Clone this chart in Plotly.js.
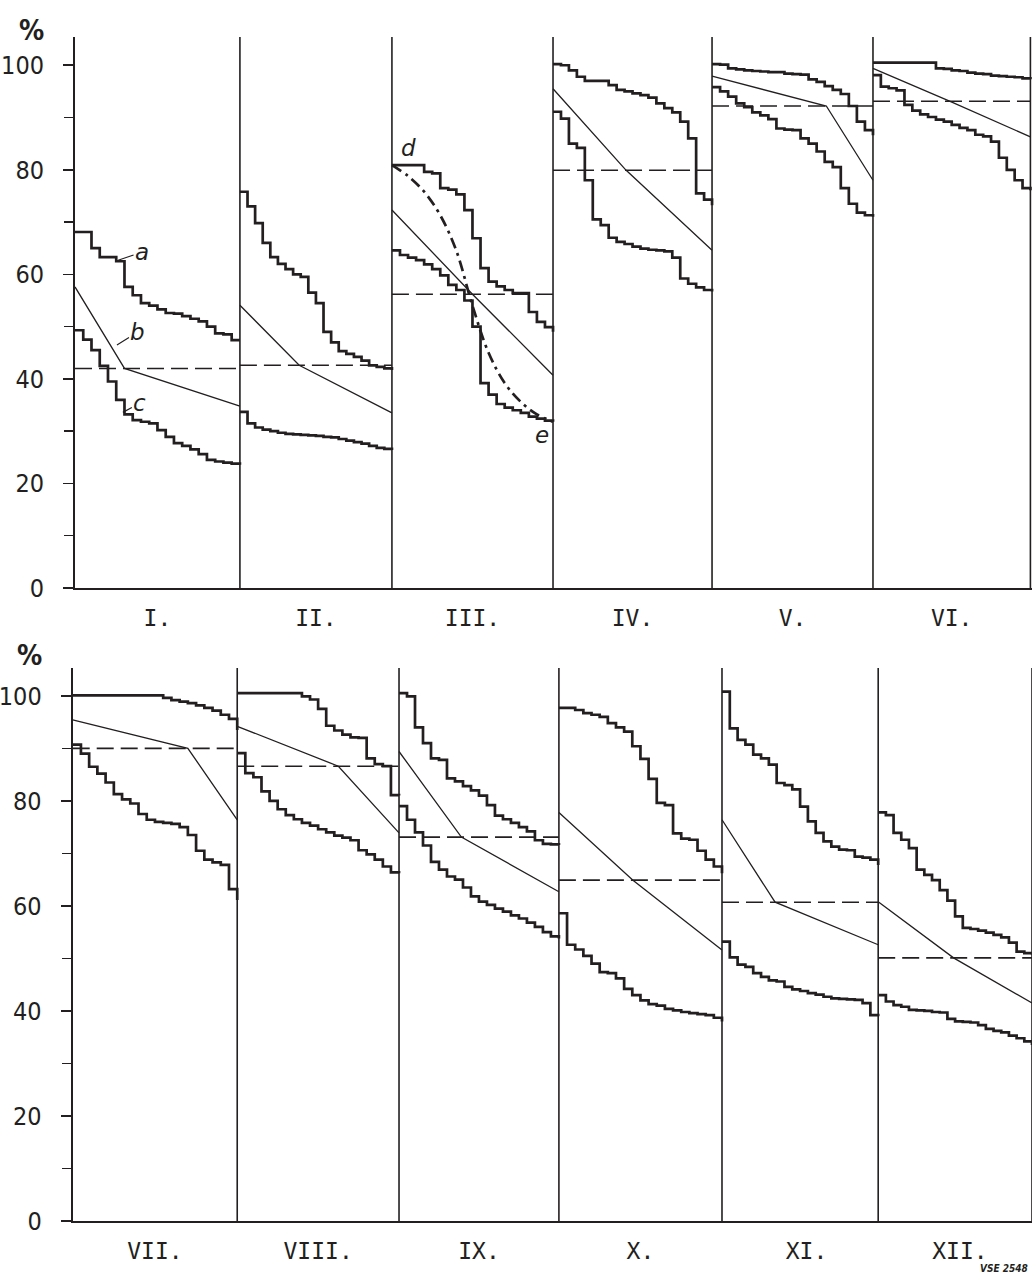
<!DOCTYPE html>
<html>
<head>
<meta charset="utf-8">
<script src="https://cdn.plot.ly/plotly-3.0.1.min.js"></script>
<style>
html,body{margin:0;padding:0;background:#fff;}
#chart{width:1032px;height:1274px;}
</style>
</head>
<body>
<div id="chart"></div>
<script>
// ---- data ----
const monthLabels = ['I.','II.','III.','IV.','V.','VI.','VII.','VIII.','IX.','X.','XI.','XII.'];

// curve "a": upper step curve, sampled at 20 equal steps through each month (+ end value)
const upperSteps = [
  [68.1,68.1,65.0,63.3,63.3,62.5,57.6,56.0,54.5,54.0,53.3,52.6,52.5,52.0,51.5,51.0,50.0,48.7,48.5,47.4,47.4],
  [75.8,73.0,69.8,66.0,63.3,62.0,61.0,60.0,59.5,56.5,54.5,49.0,47.0,45.3,44.8,44.2,43.5,42.6,42.3,42.0,41.7],
  [80.9,80.9,80.9,80.9,79.6,79.3,76.5,76.2,75.3,72.3,66.9,61.2,58.6,57.7,57.0,56.4,56.4,52.8,50.9,49.9,49.0],
  [100.2,100.0,99.0,97.8,97.0,97.0,97.0,96.2,95.3,95.0,94.6,94.3,93.8,92.7,91.8,91.0,89.2,86.0,75.5,74.3,73.2],
  [100.2,100.1,99.4,99.2,99.0,98.9,98.8,98.7,98.7,98.4,98.3,98.2,97.3,96.8,96.0,95.3,94.5,92.2,89.2,87.6,86.6],
  [100.5,100.5,100.5,100.5,100.5,100.5,100.5,100.5,99.4,99.3,99.0,98.9,98.6,98.4,98.3,98.0,97.9,97.8,97.7,97.5,97.3],
  [100.1,100.1,100.1,100.1,100.1,100.1,100.1,100.1,100.1,100.1,100.1,99.6,99.2,98.9,98.6,98.2,97.7,97.2,96.4,95.6,93.5],
  [100.5,100.5,100.5,100.5,100.5,100.5,100.5,100.5,99.9,99.3,97.5,94.3,93.4,92.6,92.1,92.0,88.1,87.0,86.6,81.1,81.0],
  [100.5,99.9,94.0,91.0,88.1,87.8,84.3,83.7,82.8,82.0,81.0,79.2,77.2,76.5,75.8,75.0,74.2,72.5,71.8,71.7,71.6],
  [97.7,97.7,97.3,96.7,96.4,96.0,94.8,94.0,93.2,90.4,88.0,84.2,79.6,79.2,73.8,72.8,72.6,70.5,68.8,67.5,66.2],
  [100.8,93.8,91.6,90.7,88.8,88.1,86.9,83.4,83.0,82.2,78.9,76.1,73.9,72.3,71.3,70.7,70.6,69.4,69.2,68.8,67.8],
  [77.8,77.3,73.9,72.6,71.0,66.9,65.9,64.9,63.0,61.0,58.0,55.8,55.6,55.3,54.9,54.5,54.0,53.0,51.3,51.0,50.7]
];

// curve "c": lower step curve
const lowerSteps = [
  [49.3,47.5,45.5,42.5,39.5,36.0,33.2,32.1,31.8,31.5,30.2,28.9,27.7,27.2,26.5,25.6,24.5,24.2,24.0,23.8,23.6],
  [33.7,31.5,30.7,30.3,30.0,29.7,29.5,29.4,29.3,29.2,29.1,28.9,28.8,28.5,28.2,27.9,27.6,27.2,26.8,26.6,26.4],
  [64.6,63.7,63.2,62.7,61.9,61.0,59.8,58.0,57.0,55.0,50.0,39.2,37.0,35.2,34.5,34.0,33.5,32.8,32.4,32.0,31.8],
  [91.1,89.8,85.0,84.2,78.0,70.5,69.4,67.0,66.2,65.8,65.3,64.9,64.7,64.6,64.4,63.2,59.2,58.2,57.5,57.0,56.7],
  [95.8,95.0,94.0,92.7,92.0,91.0,90.4,89.7,87.9,87.7,87.6,86.0,85.0,83.5,81.5,80.5,76.5,73.5,71.8,71.3,71.0],
  [98.1,95.9,95.6,95.2,92.4,91.3,90.6,90.1,89.6,89.2,88.6,88.0,87.6,86.7,86.4,85.4,82.3,80.0,78.0,76.5,76.1],
  [90.7,89.0,86.5,85.2,83.5,81.3,80.3,79.5,77.5,76.4,76.0,75.8,75.6,75.0,73.5,70.5,68.8,68.3,67.8,63.2,61.1],
  [89.1,85.3,84.5,81.8,80.0,78.4,77.3,76.5,75.8,75.3,74.6,74.0,73.4,73.0,72.5,70.6,69.8,68.8,67.5,66.4,66.2],
  [79.0,76.4,74.0,71.5,68.4,66.9,65.6,65.0,63.5,61.8,60.8,60.2,59.5,58.9,58.2,57.6,56.8,56.0,55.0,54.2,53.8],
  [58.6,52.6,51.7,50.5,49.0,47.4,47.2,46.2,44.2,43.0,42.0,41.3,41.0,40.4,40.1,39.8,39.6,39.4,39.2,38.7,38.0],
  [53.2,50.2,48.8,48.4,47.2,46.5,45.8,45.6,44.6,44.1,43.8,43.4,43.1,42.7,42.4,42.3,42.2,42.1,41.5,39.2,39.0],
  [43.0,41.8,41.1,40.8,40.2,40.1,40.0,39.8,39.7,38.5,38.0,37.9,37.8,37.3,36.6,36.2,35.9,35.3,34.8,34.2,33.5]
];

// dashed level (mean) per month
const meanLevel = [42.0,42.6,56.2,79.9,92.2,93.1,90.0,86.6,73.1,64.9,60.7,50.1];
// thin line "b": start value, fraction of month where it meets the mean, end value
const lineStart = [57.6,54.1,72.3,95.5,97.9,99.4,95.4,94.2,89.4,77.8,76.4,60.8];
const lineBreak = [0.30,0.39,0.50,0.46,0.71,0.49,0.70,0.625,0.39,0.454,0.34,0.49];
const lineEnd   = [34.8,33.5,40.7,64.6,78.0,86.3,76.4,73.9,62.7,51.6,52.6,41.5];

// dash-dot curve d-e in month III, at 11 equal steps
const deCurve = [80.9,78.8,75.8,71.3,64.5,54.0,45.0,39.2,35.6,33.2,31.8];

// ---- layout constants (panel edges in axis units) ----
const topEdges = [0,1.034,1.987,2.997,3.994,5.003,5.99];
const bottomEdges = [0,1.029,2.041,3.041,4.061,5.038,6];
const labelShift = [0,0,0,0,0,0, 0,0,0,0,0.04,0.03];
const yTop = 105.4;
const ink = '#231f20';
const numFont = '"DejaVu Sans Condensed","DejaVu Sans",sans-serif';
const romanFont = '"DejaVu Sans Mono",monospace';

function edgesFor(m){ return m < 6 ? topEdges : bottomEdges; }
function xOf(m, f){ const e = edgesFor(m), i = m % 6; return e[i] + f*(e[i+1]-e[i]); }

const traces = [];
for (let m = 0; m < 12; m++) {
  const xa = m < 6 ? 'x' : 'x2', ya = m < 6 ? 'y' : 'y2';
  const n = upperSteps[m].length - 1;
  const xs = upperSteps[m].map((_, k) => xOf(m, k / n));
  traces.push({x: xs, y: upperSteps[m], xaxis: xa, yaxis: ya, mode: 'lines',
    line: {shape: 'hv', width: 2.7, color: ink}, hoverinfo: 'skip'});
  const xl = lowerSteps[m].map((_, k) => xOf(m, k / (lowerSteps[m].length - 1)));
  traces.push({x: xl, y: lowerSteps[m], xaxis: xa, yaxis: ya, mode: 'lines',
    line: {shape: 'hv', width: 2.7, color: ink}, hoverinfo: 'skip'});
  traces.push({x: [xOf(m,0), xOf(m,lineBreak[m]), xOf(m,1)], y: [lineStart[m], meanLevel[m], lineEnd[m]],
    xaxis: xa, yaxis: ya, mode: 'lines', line: {width: 1.3, color: ink}, hoverinfo: 'skip'});
  traces.push({x: [xOf(m,0), xOf(m,1)], y: [meanLevel[m], meanLevel[m]], xaxis: xa, yaxis: ya,
    mode: 'lines', line: {width: 1.6, color: ink, dash: '17px,7px'}, hoverinfo: 'skip'});
}
traces.push({x: deCurve.map((_, k) => xOf(2, k / (deCurve.length - 1))), y: deCurve,
  xaxis: 'x', yaxis: 'y', mode: 'lines',
  line: {shape: 'spline', smoothing: 1, width: 2.7, color: ink, dash: '11px,5px,3px,5px'}, hoverinfo: 'skip'});

const shapes = [];
[['x','y',topEdges],['x2','y2',bottomEdges]].forEach(([xr, yr, e]) => {
  for (let i = 1; i < e.length; i++) {
    shapes.push({type: 'line', xref: xr, yref: yr, x0: e[i], x1: e[i], y0: 0, y1: yTop,
      line: {color: ink, width: 1.6}});
  }
});

function centers(e, off){ const c = []; for (let i = 0; i < 6; i++) c.push((e[i] + e[i+1]) / 2 + off[i]); return c; }

const yaxisBase = {
  range: [0, yTop], showline: true, linewidth: 2, linecolor: ink, showgrid: false, zeroline: false,
  ticks: 'outside', ticklen: 10, tickwidth: 1.5, tickcolor: ink, tick0: 0, dtick: 20,
  minor: {dtick: 10, ticks: 'outside', ticklen: 9, tickwidth: 1.5, tickcolor: ink},
  tickfont: {family: numFont, size: 25, color: ink}, ticklabelstandoff: 14, fixedrange: true
};
const xaxisBase = {
  range: [0, 6], showline: true, linewidth: 2, linecolor: ink, showgrid: false, zeroline: false,
  ticks: '', tickfont: {family: romanFont, size: 23, color: ink}, ticklabelstandoff: 8, fixedrange: true
};

const layout = {
  width: 1032, height: 1274, margin: {l: 0, r: 0, t: 0, b: 0},
  paper_bgcolor: '#ffffff', plot_bgcolor: 'rgba(0,0,0,0)', showlegend: false,
  xaxis: Object.assign({}, xaxisBase, {domain: [75/1032, 1], anchor: 'y',
    tickvals: centers(topEdges, labelShift.slice(0, 6)), ticktext: monthLabels.slice(0, 6)}),
  yaxis: Object.assign({}, yaxisBase, {domain: [1 - 588/1274, 1 - 37/1274], anchor: 'x'}),
  xaxis2: Object.assign({}, xaxisBase, {domain: [72.7/1032, 1], anchor: 'y2',
    tickvals: centers(bottomEdges, labelShift.slice(6)), ticktext: monthLabels.slice(6)}),
  yaxis2: Object.assign({}, yaxisBase, {domain: [1 - 1221/1274, 1 - 668/1274], anchor: 'x2', range: [0, 105.3]}),
  shapes: shapes,
  annotations: [
    {text: '<b>%</b>', xref: 'paper', yref: 'paper', x: 31/1032, y: 1 - 31/1274,
      xanchor: 'center', yanchor: 'middle', showarrow: false,
      font: {family: numFont, size: 28, color: ink}},
    {text: '<b>%</b>', xref: 'paper', yref: 'paper', x: 29/1032, y: 1 - 655/1274,
      xanchor: 'center', yanchor: 'middle', showarrow: false,
      font: {family: numFont, size: 28, color: ink}},
    {text: '<i>a</i>', xref: 'x', yref: 'y', x: 0.27, y: 62.7, ax: 24, ay: -8, showarrow: true,
      arrowhead: 0, arrowwidth: 1.2, arrowcolor: ink, font: {family: 'DejaVu Sans', size: 23, color: ink}},
    {text: '<i>b</i>', xref: 'x', yref: 'y', x: 0.263, y: 46.5, ax: 21, ay: -13, showarrow: true,
      arrowhead: 0, arrowwidth: 1.2, arrowcolor: ink, font: {family: 'DejaVu Sans', size: 23, color: ink}},
    {text: '<i>c</i>', xref: 'x', yref: 'y', x: 0.30, y: 33.6, ax: 17, ay: -9, showarrow: true,
      arrowhead: 0, arrowwidth: 1.2, arrowcolor: ink, font: {family: 'DejaVu Sans', size: 23, color: ink}},
    {text: '<i>d</i>', xref: 'x', yref: 'y', x: 2.088, y: 84.1, showarrow: false,
      font: {family: 'DejaVu Sans', size: 23, color: ink}},
    {text: '<i>e</i>', xref: 'x', yref: 'y', x: 2.928, y: 29.3, showarrow: false,
      font: {family: 'DejaVu Sans', size: 23, color: ink}},
    {text: '<b><i>VSE 2548</i></b>', xref: 'paper', yref: 'paper', x: 1004/1032, y: 1 - 1268/1274,
      xanchor: 'center', yanchor: 'middle', showarrow: false,
      font: {family: '"DejaVu Sans Condensed","DejaVu Sans"', size: 10, color: ink}}
  ]
};

Plotly.newPlot('chart', traces, layout, {displayModeBar: false, staticPlot: true});
</script>
</body>
</html>
